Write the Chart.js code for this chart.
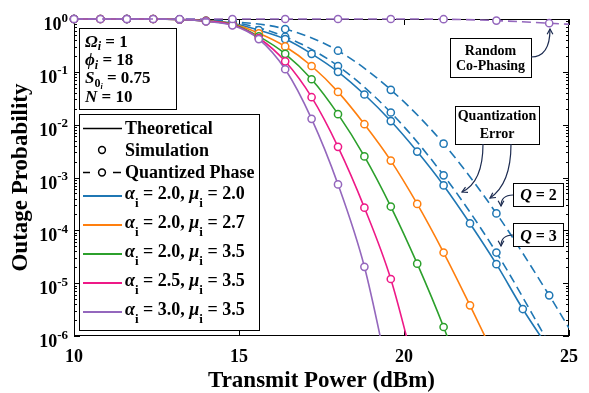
<!DOCTYPE html>
<html><head><meta charset="utf-8">
<script src="https://cdn.jsdelivr.net/npm/chart.js@4.4.0/dist/chart.umd.min.js"></script>
<style>html,body{margin:0;padding:0;background:#fff}</style>
</head><body>
<canvas id="c" width="589" height="393"></canvas>
<script>
// ---------------- DATA ----------------
const xSim = [10,10.8,11.6,12.4,13.2,14,14.8,15.6,16.4,17.2,18,18.8,19.6,20.4,21.2,22,22.8,23.6,24.4];
const xQ   = [10,11.6,13.2,14.8,16.4,18,19.6,21.2,22.8,24.4];
const xQline = [10,11.6,13.2,14.8,16.4,18,19.6,21.2,22.8,24.4,25];

// simulation markers (outage probability)
const simA20M20 = [1,1,1,1,0.977,0.933,0.832,0.617,0.417,0.219,0.1,0.0372,0.0117,0.00309,7.08e-4,1.35e-4,2.29e-5,3.24e-6];
const simA20M27 = [1,1,1,1,0.977,0.923,0.813,0.537,0.302,0.129,0.0417,0.0102,0.00209,3.16e-4,3.8e-5,3.8e-6];
const simA20M35 = [1,1,1,1,0.977,0.912,0.794,0.468,0.219,0.0724,0.0158,0.00251,2.82e-4,2.34e-5,1.48e-6];
const simA25M35 = [1,1,1,1,0.977,0.912,0.776,0.437,0.158,0.0331,0.0038,2.69e-4,1.2e-5];
const simA30M35 = [1,1,1,1,0.977,0.902,0.759,0.417,0.112,0.0129,7.41e-4,2.04e-5];

// theoretical curves (same points, continuing below the axis floor)
const thA20M20 = [1,1,1,1,0.977,0.933,0.832,0.617,0.417,0.219,0.1,0.0372,0.0117,0.00309,7.08e-4,1.35e-4,2.29e-5,3.24e-6,5.6e-7];
const thA20M27 = [1,1,1,1,0.977,0.923,0.813,0.537,0.302,0.129,0.0417,0.0102,0.00209,3.16e-4,3.8e-5,3.8e-6,3.5e-7];
const thA20M35 = [1,1,1,1,0.977,0.912,0.794,0.468,0.219,0.0724,0.0158,0.00251,2.82e-4,2.34e-5,1.48e-6,6.3e-8];
const thA25M35 = [1,1,1,1,0.977,0.912,0.776,0.437,0.158,0.0331,0.0038,2.69e-4,1.2e-5,1.58e-7];
const thA30M35 = [1,1,1,1,0.977,0.902,0.759,0.417,0.112,0.0129,7.41e-4,2.04e-5,1.12e-7];

// quantized phase (alpha=2, mu=2) and random co-phasing
const q2 = [1,1,0.989,0.891,0.646,0.251,0.0457,4.37e-3,2.09e-4,5.89e-6,1.41e-6];
const q3 = [1,1,0.984,0.871,0.462,0.129,0.017,1.1e-3,3.8e-5,7.1e-7];
const randomCoPhase = [1,1,1,1,1,1,1,0.991,0.933,0.832,0.794];

const legendAlpha = ['2.0','2.0','2.0','2.5','3.0'];
const legendMu    = ['2.0','2.7','3.5','3.5','3.5'];
const colors = ['#1f77b4','#ff7f0e','#2ca02c','#ee1987','#9467bd'];
const xTicks = [10,15,20,25];

// ---------------- CHART ----------------
const F = "'Liberation Serif','Times New Roman',serif";
const pts = (xs, ys) => ys.map((y,i)=>({x:xs[i], y}));
const lineClip = {left:0, right:0, top:4, bottom:0};

function lineDS(xs, ys, color, dash, order){
  return {type:'line', data:pts(xs,ys), borderColor:color, borderWidth:1.6, borderDash:dash||[],
    pointRadius:0, fill:false, cubicInterpolationMode:'monotone', clip:lineClip, order:order};
}
function markDS(xs, ys, color, order){
  return {type:'line', data:pts(xs,ys), showLine:false, borderColor:color, backgroundColor:'#fff',
    pointRadius:3.6, pointBorderWidth:1.5, pointHoverRadius:3.6, clip:false, order:order};
}

const thSets = [thA20M20, thA20M27, thA20M35, thA25M35, thA30M35];
const simSets = [simA20M20, simA20M27, simA20M35, simA25M35, simA30M35];
const datasets = [];
for (let i=0;i<5;i++){
  datasets.push(lineDS(xSim, thSets[i], colors[i], null, 20-i*2));
  datasets.push(markDS(xSim, simSets[i], colors[i], 10-i*2));
}
datasets.push(lineDS(xQline, q2, colors[0], [9,5], 21));
datasets.push(markDS(xQ, q2, colors[0], 11));
datasets.push(lineDS(xQline.slice(0,10), q3, colors[0], [9,5], 21));
datasets.push(markDS(xQ, q3, colors[0], 11));
datasets.push(lineDS(xQline, randomCoPhase, colors[4], [9,5], 0));
datasets.push(markDS(xQ, randomCoPhase, colors[4], -1));

function txt(ctx, x, y, parts, align){
  let w = 0;
  for (const p of parts){ ctx.font = p[1]; w += ctx.measureText(p[0]).width; }
  let cx = align==='center' ? x - w/2 : (align==='right' ? x - w : x);
  ctx.textAlign='left'; ctx.textBaseline='alphabetic';
  for (const p of parts){ ctx.font = p[1]; ctx.fillText(p[0], cx, y + (p[2]||0)); cx += ctx.measureText(p[0]).width; }
}
function arrow(ctx, x0,y0,cx,cy,x1,y1){
  ctx.beginPath(); ctx.moveTo(x0,y0); ctx.quadraticCurveTo(cx,cy,x1,y1); ctx.stroke();
  const a = Math.atan2(y1-cy, x1-cx), l=6, w=0.5;
  ctx.beginPath();
  ctx.moveTo(x1-l*Math.cos(a-w), y1-l*Math.sin(a-w)); ctx.lineTo(x1,y1);
  ctx.lineTo(x1-l*Math.cos(a+w), y1-l*Math.sin(a+w)); ctx.stroke();
}

const framePlugin = {
  id:'frame',
  beforeDatasetsDraw(chart){
    const ctx = chart.ctx, xs = chart.scales.x, ys = chart.scales.y;
    const a = chart.chartArea;
    ctx.save();
    ctx.strokeStyle = '#000'; ctx.lineWidth = 1;
    ctx.strokeRect(a.left+0.5, a.top+0.5, a.right-a.left-1, a.bottom-a.top-1);
    ctx.beginPath();
    for (const v of xTicks){
      const x = Math.round(xs.getPixelForValue(v))+0.5;
      ctx.moveTo(x, a.bottom); ctx.lineTo(x, a.bottom-6);
      ctx.moveTo(x, a.top); ctx.lineTo(x, a.top+6);
    }
    for (let k=0;k<=6;k++){
      const y = Math.round(ys.getPixelForValue(Math.pow(10,-k)))+0.5;
      ctx.moveTo(a.left, y); ctx.lineTo(a.left+6, y);
      ctx.moveTo(a.right, y); ctx.lineTo(a.right-6, y);
      if (k<6){
        for (let m=2;m<=9;m++){
          const ym = Math.round(ys.getPixelForValue(m*Math.pow(10,-k-1)))+0.5;
          ctx.moveTo(a.left, ym); ctx.lineTo(a.left+3, ym);
          ctx.moveTo(a.right, ym); ctx.lineTo(a.right-3, ym);
        }
      }
    }
    ctx.stroke();
    ctx.restore();
  },
  afterDraw(chart){
    const ctx = chart.ctx, ys = chart.scales.y;
    ctx.save();
    ctx.fillStyle = '#000';
    // y tick labels with superscripts
    for (let k=0;k<=6;k++){
      const y = ys.getPixelForValue(Math.pow(10,-k));
      const e = k===0 ? '0' : '-'+k;
      ctx.font = `bold 13px ${F}`;
      const ew = ctx.measureText(e).width;
      ctx.textAlign='right'; ctx.textBaseline='alphabetic';
      ctx.fillText(e, 68, y+2.5);
      ctx.font = `bold 18px ${F}`;
      ctx.fillText('10', 68-ew, y+11);
    }
    // parameter box
    ctx.fillStyle='#fff'; ctx.fillRect(79,28,97,81);
    ctx.strokeStyle='#000'; ctx.lineWidth=1; ctx.strokeRect(79.5,28.5,97,81);
    ctx.fillStyle='#000';
    const BI = `italic bold 17px ${F}`, Bn = `bold 17px ${F}`, sub = `italic bold 12px ${F}`, subn = `bold 12px ${F}`, sub2 = `italic bold 8px ${F}`;
    txt(ctx, 85, 46.5, [['Ω',BI],['i',sub,3.5],[' = 1',Bn]]);
    txt(ctx, 85, 65, [['ϕ',BI],['i',sub,3.5],[' = 18',Bn]]);
    txt(ctx, 85, 83, [['S',BI],['0',subn,3.5],['i',sub2,6],[' = 0.75',Bn]]);
    txt(ctx, 85, 101.5, [['N',BI],[' = 10',Bn]]);
    // legend
    ctx.fillStyle='#fff'; ctx.fillRect(79,114,180,216);
    ctx.strokeStyle='#000'; ctx.strokeRect(79.5,114.5,180,216);
    const LF = `bold 18px ${F}`;
    ctx.fillStyle='#000';
    ctx.strokeStyle='#000'; ctx.lineWidth=1.6;
    ctx.beginPath(); ctx.moveTo(83,128.5); ctx.lineTo(122,128.5); ctx.stroke();
    txt(ctx, 125, 134, [['Theoretical',LF]]);
    ctx.lineWidth=1.5;
    ctx.beginPath(); ctx.arc(102,150,3.4,0,Math.PI*2); ctx.stroke();
    txt(ctx, 125, 156, [['Simulation',LF]]);
    ctx.lineWidth=1.6;
    ctx.beginPath(); ctx.moveTo(83,172.5); ctx.lineTo(90,172.5); ctx.moveTo(113,172.5); ctx.lineTo(121,172.5); ctx.stroke();
    ctx.lineWidth=1.5;
    ctx.beginPath(); ctx.arc(102,172.5,3.4,0,Math.PI*2); ctx.stroke();
    txt(ctx, 125, 177.5, [['Quantized Phase',LF]]);
    const GI = `italic bold 18px ${F}`, S = `bold 13px ${F}`;
    for (let i=0;i<5;i++){
      const y = 196 + i*29;
      ctx.strokeStyle = colors[i]; ctx.lineWidth=2;
      ctx.beginPath(); ctx.moveTo(83,y); ctx.lineTo(122,y); ctx.stroke();
      ctx.fillStyle='#000';
      txt(ctx, 125, y+3, [['α',GI],['i',S,8],[' = '+legendAlpha[i]+', ',LF],['μ',GI],['i',S,8],[' = '+legendMu[i],LF]]);
    }
    // annotations
    const AF = `bold 14px ${F}`;
    ctx.lineWidth=1; ctx.strokeStyle='#000';
    ctx.fillStyle='#fff'; ctx.fillRect(450,38,81,39); ctx.strokeRect(450.5,38.5,81,39);
    ctx.fillRect(455,106,84,38); ctx.strokeRect(455.5,106.5,84,38);
    ctx.fillRect(513,183,50,23); ctx.strokeRect(513.5,183.5,50,23);
    ctx.fillRect(513,223,50,23); ctx.strokeRect(513.5,223.5,50,23);
    ctx.fillStyle='#000';
    txt(ctx, 490.5, 55, [['Random',AF]], 'center');
    txt(ctx, 490.5, 69.5, [['Co-Phasing',AF]], 'center');
    txt(ctx, 497, 120, [['Quantization',AF]], 'center');
    txt(ctx, 497, 138, [['Error',AF]], 'center');
    const QI = `italic bold 16px ${F}`, QB = `bold 16px ${F}`;
    txt(ctx, 538.5, 200, [['Q',QI],[' = 2',QB]], 'center');
    txt(ctx, 538.5, 240.5, [['Q',QI],[' = 3',QB]], 'center');
    ctx.strokeStyle='#1c2b50'; ctx.lineWidth=1.2;
    arrow(ctx, 531,57, 550,57, 550,29);
    arrow(ctx, 483,144, 483,182, 462,192);
    arrow(ctx, 511,144, 511,184, 490,198);
    arrow(ctx, 513,195, 501,195, 501,206);
    arrow(ctx, 513,235, 501,235, 501,246);
    ctx.restore();
  }
};

new Chart(document.getElementById('c'), {
  type:'line',
  data:{datasets},
  options:{
    responsive:false, animation:false, devicePixelRatio:1,
    layout:{padding:{left:0,right:20,top:19,bottom:0}},
    plugins:{legend:{display:false}, tooltip:{enabled:false}},
    scales:{
      x:{type:'linear', min:10, max:25,
        afterFit(s){ s.height = 57; },
        grid:{display:false, drawTicks:false}, border:{display:false},
        ticks:{stepSize:5, color:'#000', font:{family:F, size:18, weight:'bold'}, padding:11, maxRotation:0, autoSkip:false},
        title:{display:true, text:'Transmit Power (dBm)', color:'#000', font:{family:F, size:23, weight:'bold', lineHeight:1}, padding:{top:0,bottom:0}}
      },
      y:{type:'logarithmic', min:1e-6, max:1,
        afterFit(s){ s.width = 74; },
        grid:{display:false, drawTicks:false}, border:{display:false},
        ticks:{display:false},
        title:{display:true, text:'Outage Probability', color:'#000', font:{family:F, size:23, weight:'bold', lineHeight:1}, padding:{top:10,bottom:0}}
      }
    }
  },
  plugins:[framePlugin]
});
</script>
</body></html>
